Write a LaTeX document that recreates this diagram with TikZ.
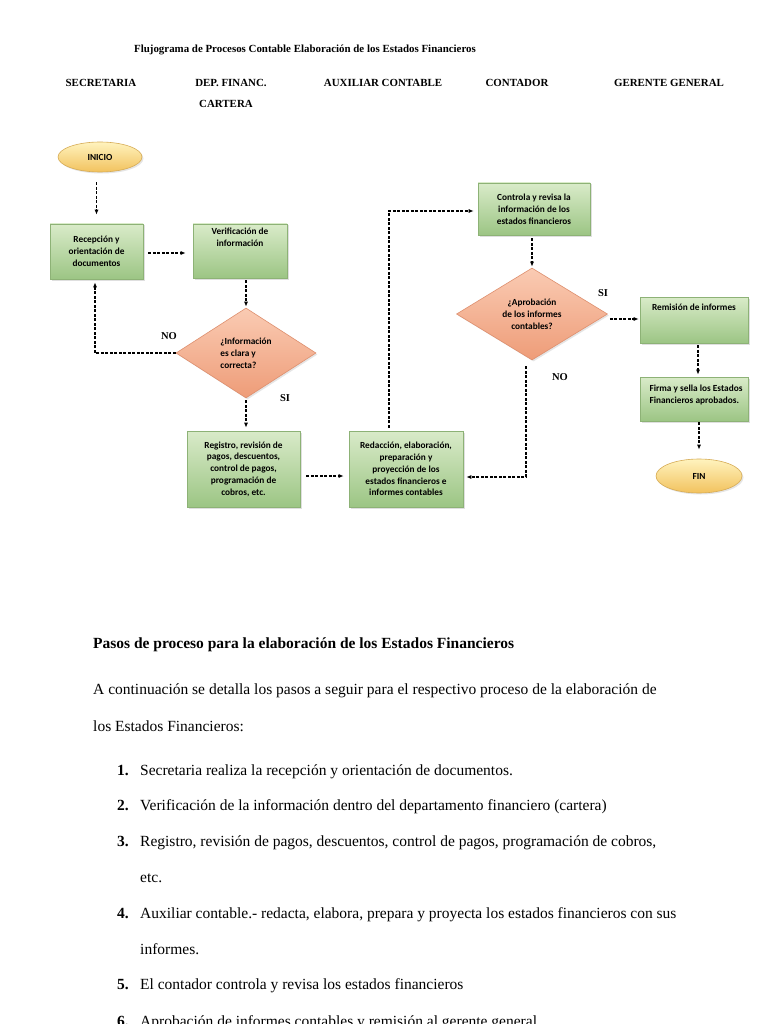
\documentclass[tikz,border=0pt]{standalone}
\usepackage{fontspec}
\setmainfont{Liberation Serif}
\newfontfamily\boxfont{Carlito}
\usetikzlibrary{shapes.geometric,arrows.meta,shadows}
\definecolor{gtop}{HTML}{D9EBC9}
\definecolor{gbot}{HTML}{9CC584}
\definecolor{gdraw}{HTML}{8DB276}
\definecolor{dtop}{HTML}{FACBB3}
\definecolor{dbot}{HTML}{EE9C78}
\definecolor{ddraw}{HTML}{DE8F6E}
\definecolor{etop}{HTML}{FFF3BE}
\definecolor{ebot}{HTML}{F2C25E}
\definecolor{edraw}{HTML}{D6AB55}
\begin{document}
\begin{tikzpicture}[x=1pt,y=-1pt,
  btxt/.style={font=\boxfont\bfseries\fontsize{9.3}{11.8}\selectfont, align=center, inner sep=0pt},
  gbox/.style={draw=gdraw, line width=0.6pt, top color=gtop, bottom color=gbot, inner sep=2pt,
     btxt, drop shadow={opacity=0.25, shadow xshift=1.5pt, shadow yshift=-1.5pt}},
  dia/.style={diamond, draw=ddraw, line width=0.6pt, top color=dtop, bottom color=dbot, inner sep=0pt,
     btxt, drop shadow={opacity=0.2, shadow xshift=1.5pt, shadow yshift=-1.5pt}},
  ell/.style={ellipse, draw=edraw, line width=0.6pt, top color=etop, bottom color=ebot, inner sep=0pt,
     btxt, drop shadow={opacity=0.2, shadow xshift=1.5pt, shadow yshift=-1.5pt}},
  dar/.style={draw=black, line width=1.1pt, dash pattern=on 3pt off 1.5pt, -{Latex[length=5pt,width=4pt]}},
  hdr/.style={font=\bfseries\fontsize{10.9}{12}\selectfont, inner sep=0pt},
  lbl/.style={font=\bfseries\fontsize{10.5}{12}\selectfont, inner sep=0pt},
  body/.style={font=\fontsize{15.5}{18}\selectfont, inner sep=0pt, anchor=base west},
  num/.style={font=\bfseries\fontsize{15.5}{18}\selectfont, inner sep=0pt, anchor=base west}
]
\useasboundingbox[fill=white] (0,0) rectangle (768,1024);

% titles
\node[hdr] (title) at (305,50) {Flujograma de Procesos Contable Elaboración de los Estados Financieros};
\node[hdr] (h1) at (101,83) {SECRETARIA};
\node[hdr] (h2) at (231,83) {DEP. FINANC.};
\node[hdr] (h2b) at (226,104) {CARTERA};
\node[hdr] (h3) at (383,83) {AUXILIAR CONTABLE};
\node[hdr] (h4) at (517,83) {CONTADOR};
\node[hdr] (h5) at (669,83) {GERENTE GENERAL};

% nodes
\node[ell, minimum width=84, minimum height=30] (inicio) at (100,157) {INICIO};
\node[gbox, minimum width=93, minimum height=55] (recep) at (96.5,251.5) {Recepción y\\orientación de\\documentos};
\node[gbox, minimum width=94, minimum height=54] (verif) at (240,251) {};
\node[btxt, below=4pt] (veriftxt) at (verif.north) {Verificación de\\información};
\node[dia, aspect=1.55, minimum width=140, minimum height=90, align=left] (q1) at (246,353) {¿Información\\es clara y\\correcta?};
\node[gbox, minimum width=113, minimum height=76] (reg) at (243.5,469) {Registro, revisión de\\pagos, descuentos,\\control de pagos,\\programación de\\cobros, etc.};
\node[gbox, minimum width=114, minimum height=76] (red) at (406,469) {Redacción, elaboración,\\preparación y\\proyección de los\\estados financieros e\\informes contables};
\node[gbox, minimum width=112, minimum height=52] (ctrl) at (534,209) {Controla y revisa la\\información de los\\estados financieros};
\node[dia, aspect=1.64, minimum width=151, minimum height=92] (q2) at (532,314) {¿Aprobación\\de los informes\\contables?};
\node[gbox, minimum width=108, minimum height=46] (rem) at (694,320) {};
\node[btxt, below=7pt] (remtxt) at (rem.north) {Remisión de informes};
\node[gbox, minimum width=108, minimum height=44] (firm) at (694,399) {};
\node[btxt, align=left] (firmtxt) at (696,395) {Firma y sella los Estados\\Financieros aprobados.};
\node[ell, minimum width=86, minimum height=34] (fin) at (699,476) {FIN};

% labels
\node[lbl] (no1) at (169,336) {NO};
\node[lbl] (si1) at (285,398) {SI};
\node[lbl] (si2) at (603,293) {SI};
\node[lbl] (no2) at (560,377) {NO};

% connectors
\draw[dar, shorten <=10pt, shorten >=9pt] (inicio.south -| recep.north) -- (recep.north);
\draw[dar, shorten <=5pt, shorten >=7pt] ([yshift=-1.5pt]recep.east) -- ([yshift=-1.5pt]recep.east -| verif.west);
\draw[dar, shorten <=2pt, shorten >=1pt] (verif.south -| q1.north) -- (q1.north);
\draw[dar, shorten >=3pt] (q1.west) -| ([xshift=-1.5pt]recep.south);
\draw[dar, shorten <=2pt, shorten >=3pt] (q1.south) -- (q1.south |- reg.north);
\draw[dar, shorten <=6pt, shorten >=5pt] ([yshift=-7pt]reg.east) -- ([yshift=-7pt]red.west);
\draw[dar, shorten <=3pt, shorten >=4pt] ([xshift=-17pt]red.north) |- ([yshift=-2pt]ctrl.west);
\draw[dar, shorten <=3pt, shorten >=1pt] (ctrl.south -| q2.north) -- (q2.north);
\draw[dar, shorten <=2pt, shorten >=1pt] ([yshift=-5pt]q2.east) -- ([yshift=-5pt]q2.east -| rem.west);
\draw[dar, shorten <=2pt, shorten >=2pt] ([xshift=4pt]rem.south) -- ([xshift=4pt]firm.north);
\draw[dar, shorten <=1pt, shorten >=9pt] (firm.south -| fin.north) -- (fin.north);
\draw[dar, shorten <=6pt, shorten >=3pt] ([xshift=-6pt]q2.south) |- ([yshift=-8pt]red.east);

% text section
\node[font=\bfseries\fontsize{15.5}{18}\selectfont, inner sep=0pt, anchor=base west] (head) at (93,648) {Pasos de proceso para la elaboración de los Estados Financieros};
\node[body] (p1) at (93,694) {A continuación se detalla los pasos a seguir para el respectivo proceso de la elaboración de};
\node[body] (p2) at (93,731) {los Estados Financieros:};
\node[num] (n1) at (117,775) {1.};
\node[body] (t1) at (140,775) {Secretaria realiza la recepción y orientación de documentos.};
\node[num] (n2) at (117,810) {2.};
\node[body] (t2) at (140,810) {Verificación de la información dentro del departamento financiero (cartera)};
\node[num] (n3) at (117,846) {3.};
\node[body] (t3) at (140,846) {Registro, revisión de pagos, descuentos, control de pagos, programación de cobros,};
\node[body] (t3b) at (140,882) {etc.};
\node[num] (n4) at (117,918) {4.};
\node[body] (t4) at (140,918) {Auxiliar contable.- redacta, elabora, prepara y proyecta los estados financieros con sus};
\node[body] (t4b) at (140,954) {informes.};
\node[num] (n5) at (117,989) {5.};
\node[body] (t5) at (140,989) {El contador controla y revisa los estados financieros};
\node[num] (n6) at (117,1026) {6.};
\node[body] (t6) at (140,1026) {Aprobación de informes contables y remisión al gerente general};
\end{tikzpicture}
\end{document}
